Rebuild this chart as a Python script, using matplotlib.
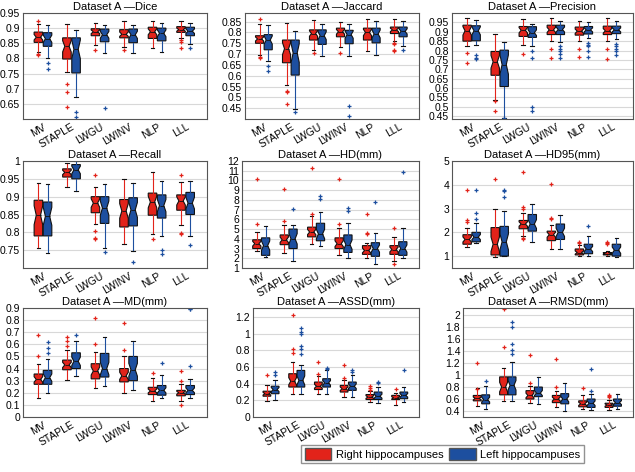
import matplotlib
matplotlib.use('Agg')
import matplotlib.pyplot as plt
from matplotlib.patches import Patch

plt.rcParams['font.family'] = ['Liberation Sans', 'DejaVu Sans']

methods = ['MV', 'STAPLE', 'LWGU', 'LWINV', 'NLP', 'LLL']
n_subjects = 35  # used only for the notch width

# each box: (lower whisker, q1, median, q3, upper whisker)
dice_right = [(0.82, 0.853, 0.870, 0.887, 0.913), (0.755, 0.798, 0.840, 0.868, 0.913),
              (0.845, 0.875, 0.888, 0.898, 0.918), (0.838, 0.868, 0.880, 0.895, 0.922),
              (0.835, 0.866, 0.888, 0.903, 0.925), (0.868, 0.886, 0.895, 0.905, 0.924)]
dice_left = [(0.80, 0.840, 0.865, 0.885, 0.910), (0.672, 0.752, 0.830, 0.868, 0.893),
             (0.818, 0.855, 0.878, 0.897, 0.912), (0.818, 0.852, 0.878, 0.897, 0.910),
             (0.822, 0.858, 0.883, 0.900, 0.918), (0.848, 0.875, 0.890, 0.903, 0.918)]
dice_right_out = [[0.925, 0.815, 0.81], [0.715, 0.69, 0.64], [0.828], [0.828], [], [0.862, 0.855, 0.835]]
dice_left_out = [[0.785, 0.765], [0.622, 0.605], [0.635], [], [], [0.835]]

jac_right = [(0.695, 0.750, 0.770, 0.785, 0.838), (0.555, 0.660, 0.725, 0.765, 0.843),
             (0.720, 0.765, 0.795, 0.812, 0.858), (0.733, 0.780, 0.803, 0.820, 0.850),
             (0.715, 0.765, 0.800, 0.820, 0.862), (0.760, 0.795, 0.812, 0.825, 0.860)]
jac_left = [(0.668, 0.720, 0.765, 0.790, 0.835), (0.448, 0.603, 0.705, 0.765, 0.805),
            (0.690, 0.745, 0.785, 0.812, 0.838), (0.692, 0.748, 0.790, 0.810, 0.840),
            (0.698, 0.752, 0.793, 0.820, 0.855), (0.738, 0.780, 0.805, 0.825, 0.852)]
jac_right_out = [[0.86, 0.685, 0.68], [0.53, 0.525, 0.468], [0.705], [0.705], [], [0.75, 0.745, 0.717, 0.715]]
jac_left_out = [[0.645, 0.62], [0.432], [], [0.462, 0.413], [], [0.717]]

prec_right = [(0.825, 0.850, 0.905, 0.935, 0.975), (0.535, 0.668, 0.740, 0.795, 0.888),
              (0.828, 0.875, 0.908, 0.928, 0.968), (0.850, 0.885, 0.910, 0.935, 0.973),
              (0.850, 0.882, 0.903, 0.925, 0.955), (0.852, 0.885, 0.905, 0.930, 0.975)]
prec_left = [(0.828, 0.852, 0.905, 0.932, 0.962), (0.440, 0.608, 0.725, 0.802, 0.848),
             (0.823, 0.870, 0.895, 0.927, 0.940), (0.848, 0.885, 0.912, 0.935, 0.955),
             (0.865, 0.888, 0.910, 0.928, 0.952), (0.862, 0.890, 0.910, 0.930, 0.958)]
prec_right_out = [[0.785, 0.733], [0.532, 0.48], [0.782], [0.81, 0.758], [0.81, 0.768], [0.808, 0.755]]
prec_left_out = [[0.778, 0.762, 0.755], [0.44], [0.795, 0.758, 0.50, 0.478],
                 [0.822, 0.808, 0.795, 0.78, 0.76], [0.84, 0.832, 0.825, 0.795, 0.765],
                 [0.835, 0.825, 0.81, 0.795, 0.778]]

rec_right = [(0.757, 0.790, 0.848, 0.890, 0.937), (0.928, 0.955, 0.968, 0.978, 0.993),
             (0.822, 0.855, 0.882, 0.900, 0.928), (0.768, 0.815, 0.860, 0.892, 0.950),
             (0.795, 0.848, 0.885, 0.910, 0.970), (0.820, 0.862, 0.888, 0.905, 0.942)]
rec_left = [(0.742, 0.790, 0.845, 0.885, 0.935), (0.915, 0.950, 0.975, 0.990, 1.000),
            (0.755, 0.825, 0.868, 0.900, 0.935), (0.748, 0.818, 0.863, 0.897, 0.938),
            (0.790, 0.840, 0.875, 0.905, 0.945), (0.790, 0.850, 0.882, 0.912, 0.943)]
rec_right_out = [[], [], [0.962, 0.805, 0.785, 0.782], [], [0.78], [0.96, 0.798, 0.795]]
rec_left_out = [[], [], [0.745], [0.717], [0.75, 0.74], [0.765]]

hd_right = [(2.7, 3.0, 3.5, 3.9, 4.7), (2.5, 3.4, 3.9, 4.4, 5.4), (3.5, 4.2, 4.7, 5.2, 6.3),
            (2.3, 3.0, 3.5, 4.1, 5.1), (2.0, 2.4, 2.8, 3.3, 3.6), (1.7, 2.4, 2.9, 3.3, 4.2)]
hd_left = [(2.1, 2.3, 3.3, 4.1, 5.3), (1.7, 3.0, 4.0, 5.0, 5.4), (3.3, 3.8, 4.5, 5.6, 6.8),
           (2.0, 2.6, 3.4, 4.4, 5.6), (1.4, 2.2, 3.0, 3.6, 4.6), (2.0, 2.3, 3.0, 3.7, 5.1)]
hd_right_out = [[10.1, 5.5], [9.1, 5.8], [11.3, 6.6], [10.1, 5.5], [6.6, 4.6, 4.5], [5.1, 1.4]]
hd_left_out = [[], [7.1], [8.4, 8.1], [7.2, 6.9], [7.8], [10.9]]

hd95_right = [(1.4, 1.5, 1.7, 1.9, 2.2), (0.95, 1.05, 1.5, 2.2, 3.0), (1.85, 2.15, 2.35, 2.5, 2.8),
              (1.3, 1.65, 1.9, 2.05, 2.3), (1.0, 1.05, 1.15, 1.3, 1.45), (1.0, 1.05, 1.1, 1.15, 1.2)]
hd95_left = [(1.55, 1.6, 1.8, 2.0, 2.4), (1.0, 1.0, 1.6, 2.25, 2.9), (1.6, 2.05, 2.35, 2.75, 3.2),
             (1.3, 1.7, 2.0, 2.35, 2.75), (1.0, 1.1, 1.3, 1.5, 1.85), (0.98, 1.0, 1.25, 1.5, 1.75)]
hd95_right_out = [[3.8, 2.5, 2.45], [4.25], [4.55, 3.05, 3.0, 1.75, 1.7], [4.05, 2.6, 2.55],
                  [1.6, 1.55], [1.6, 1.55, 1.5]]
hd95_left_out = [[3.8, 2.8, 2.55], [3.8, 3.75, 3.5], [], [], [2.25], []]

md_right = [(0.16, 0.27, 0.31, 0.355, 0.435), (0.305, 0.39, 0.43, 0.47, 0.555),
            (0.24, 0.315, 0.38, 0.44, 0.54), (0.20, 0.29, 0.34, 0.40, 0.50),
            (0.13, 0.185, 0.215, 0.245, 0.325), (0.13, 0.175, 0.20, 0.22, 0.27)]
md_left = [(0.20, 0.27, 0.325, 0.385, 0.48), (0.335, 0.40, 0.46, 0.53, 0.625),
           (0.255, 0.33, 0.40, 0.525, 0.66), (0.225, 0.30, 0.39, 0.50, 0.63),
           (0.155, 0.18, 0.22, 0.26, 0.345), (0.155, 0.185, 0.22, 0.26, 0.315)]
md_right_out = [[0.68, 0.50], [0.66, 0.63, 0.59], [0.82, 0.60], [0.78, 0.55], [0.36], [0.38, 0.30, 0.10]]
md_left_out = [[0.62, 0.57, 0.53], [0.68], [], [], [0.45], [0.42, 0.89, 0.89]]

assd_right = [(0.19, 0.25, 0.28, 0.31, 0.39), (0.28, 0.36, 0.43, 0.52, 0.66),
              (0.28, 0.33, 0.37, 0.42, 0.49), (0.24, 0.30, 0.34, 0.38, 0.44),
              (0.18, 0.21, 0.24, 0.27, 0.31), (0.15, 0.21, 0.23, 0.26, 0.29)]
assd_left = [(0.20, 0.28, 0.33, 0.37, 0.44), (0.28, 0.36, 0.44, 0.56, 0.63),
             (0.28, 0.36, 0.41, 0.46, 0.56), (0.24, 0.32, 0.37, 0.42, 0.51),
             (0.17, 0.21, 0.25, 0.30, 0.36), (0.18, 0.22, 0.26, 0.30, 0.36)]
assd_right_out = [[0.50], [1.22, 0.82, 0.77], [0.66, 0.52], [0.62, 0.47], [0.37, 0.35, 0.33], [0.34]]
assd_left_out = [[0.54, 0.50], [1.07, 1.02, 1.0, 0.85, 0.82, 0.76], [0.59, 0.58], [0.56, 0.54],
                 [0.42, 0.41], [0.56]]

rmsd_right = [(0.48, 0.57, 0.61, 0.66, 0.78), (0.57, 0.67, 0.80, 0.97, 1.11),
              (0.54, 0.60, 0.66, 0.74, 0.82), (0.46, 0.54, 0.60, 0.66, 0.74),
              (0.44, 0.47, 0.52, 0.57, 0.67), (0.42, 0.46, 0.50, 0.53, 0.58)]
rmsd_left = [(0.44, 0.52, 0.59, 0.67, 0.82), (0.56, 0.67, 0.83, 0.97, 1.22),
             (0.52, 0.64, 0.70, 0.80, 0.97), (0.40, 0.52, 0.60, 0.69, 0.86),
             (0.42, 0.46, 0.53, 0.60, 0.68), (0.44, 0.48, 0.54, 0.60, 0.68)]
rmsd_right_out = [[1.2, 0.77], [2.1, 1.47], [1.34, 0.86], [1.27, 0.80], [0.78], [0.67, 0.65, 0.64]]
rmsd_left_out = [[0.90], [1.88, 1.80, 1.52, 1.42, 1.35], [], [], [1.10, 0.74], []]

panels = [
    ('Dice', dice_right, dice_left, dice_right_out, dice_left_out, (0.60, 0.95),
     [0.65, 0.7, 0.75, 0.8, 0.85, 0.9, 0.95]),
    ('Jaccard', jac_right, jac_left, jac_right_out, jac_left_out, (0.40, 0.89),
     [0.45, 0.5, 0.55, 0.6, 0.65, 0.7, 0.75, 0.8, 0.85]),
    ('Precision', prec_right, prec_left, prec_right_out, prec_left_out, (0.435, 1.0),
     [0.45, 0.5, 0.55, 0.6, 0.65, 0.7, 0.75, 0.8, 0.85, 0.9, 0.95]),
    ('Recall', rec_right, rec_left, rec_right_out, rec_left_out, (0.70, 1.0),
     [0.75, 0.8, 0.85, 0.9, 0.95, 1]),
    ('HD(mm)', hd_right, hd_left, hd_right_out, hd_left_out, (1, 12), list(range(1, 13))),
    ('HD95(mm)', hd95_right, hd95_left, hd95_right_out, hd95_left_out, (0.5, 5), [1, 2, 3, 4, 5]),
    ('MD(mm)', md_right, md_left, md_right_out, md_left_out, (0, 0.9),
     [0, 0.1, 0.2, 0.3, 0.4, 0.5, 0.6, 0.7, 0.8, 0.9]),
    ('ASSD(mm)', assd_right, assd_left, assd_right_out, assd_left_out, (0, 1.31),
     [0, 0.2, 0.4, 0.6, 0.8, 1, 1.2]),
    ('RMSD(mm)', rmsd_right, rmsd_left, rmsd_right_out, rmsd_left_out, (0.3, 2.12),
     [0.4, 0.6, 0.8, 1, 1.2, 1.4, 1.6, 1.8, 2]),
]

# axes boxes in pixels: left, top, right, bottom
rects = [(23, 13, 207, 119), (245, 13, 419, 119), (452, 13, 633, 119),
         (23, 161, 207, 268), (242, 161, 419, 268), (452, 161, 633, 268),
         (23, 308, 207, 417), (253, 308, 419, 417), (463, 308, 633, 417)]

red = '#e2231a'
blue = '#1d4f9f'
W, H = 635, 472

fig = plt.figure(figsize=(W / 100, H / 100), dpi=100)


def make_stats(boxes, outs):
    stats = []
    for (lo, q1, med, q3, hi), fl in zip(boxes, outs):
        half = 1.57 * (q3 - q1) / n_subjects ** 0.5
        stats.append(dict(whislo=lo, q1=q1, med=med, q3=q3, whishi=hi, fliers=fl,
                          cilo=med - half, cihi=med + half))
    return stats


def draw(ax, stats, pos, color):
    ax.bxp(stats, positions=pos, widths=0.3, shownotches=True, patch_artist=True,
           capwidths=0.13,
           boxprops=dict(facecolor=color, edgecolor='#111111', linewidth=0.8),
           whiskerprops=dict(color=color, linewidth=0.8),
           capprops=dict(color='#111111', linewidth=0.8),
           medianprops=dict(color='#111111', linewidth=0.6),
           flierprops=dict(marker='+', markersize=2.5, markeredgewidth=0.9,
                           markeredgecolor=color, linestyle='none'))


for (name, rb, lb, ro, lo, ylim, yt), (l, t, r, b) in zip(panels, rects):
    ax = fig.add_axes([l / W, 1 - b / H, (r - l) / W, (b - t) / H])
    x = list(range(1, len(methods) + 1))
    draw(ax, make_stats(rb, ro), [i - 0.16 for i in x], red)
    draw(ax, make_stats(lb, lo), [i + 0.16 for i in x], blue)
    ax.set_xlim(0.3, 6.75)
    ax.set_ylim(*ylim)
    ax.set_yticks(yt)
    ax.set_yticklabels([f'{v:g}' for v in yt])
    ax.set_xticks(x)
    ax.set_xticklabels(methods, rotation=30, ha='right', rotation_mode='anchor')
    ax.tick_params(axis='both', labelsize=7.5, length=0, pad=2)
    ax.grid(axis='y', color='#d8d8d8', linewidth=0.8)
    ax.set_axisbelow(True)
    for s in ax.spines.values():
        s.set_color('#555555')
        s.set_linewidth(0.8)
    ax.set_title('Dataset A \u2014' + name, fontsize=8, pad=2)

handles = [Patch(facecolor=red, edgecolor='#555555', label='Right hippocampuses'),
           Patch(facecolor=blue, edgecolor='#555555', label='Left hippocampuses')]
fig.legend(handles=handles, loc='center', bbox_to_anchor=(0.697, 0.038), ncol=2,
           fontsize=8, frameon=True, fancybox=False, edgecolor='#777777',
           handlelength=2.4, handleheight=1.3, handletextpad=0.4, columnspacing=0.5,
           borderpad=0.3)

fig.savefig('out.png', dpi=100)
